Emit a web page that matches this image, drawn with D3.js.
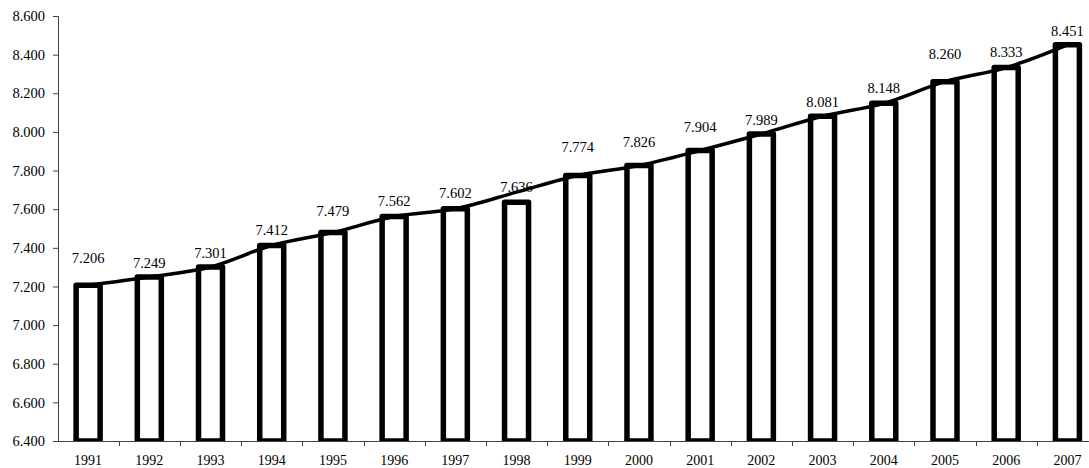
<!DOCTYPE html>
<html><head><meta charset="utf-8">
<script src="https://cdn.jsdelivr.net/npm/d3@7"></script>
<style>
html,body{margin:0;padding:0;background:#fff;overflow:hidden}
svg{display:block}
text{font-family:"Liberation Serif","Times New Roman",serif;fill:#000}
</style></head>
<body><svg id="chart" width="1089" height="468"></svg>
<script>
const years = ["1991","1992","1993","1994","1995","1996","1997","1998","1999","2000","2001","2002","2003","2004","2005","2006","2007"];
const values = [7.206,7.249,7.301,7.412,7.479,7.562,7.602,7.636,7.774,7.826,7.904,7.989,8.081,8.148,8.260,8.333,8.451];
const trendValues = [7.206,7.249,7.301,7.412,7.479,7.562,7.602,7.688,7.774,7.826,7.904,7.989,8.081,8.148,8.260,8.333,8.451];
const yTicks = [6.4,6.6,6.8,7.0,7.2,7.4,7.6,7.8,8.0,8.2,8.4,8.6];
const yTickLabels = ["6.400","6.600","6.800","7.000","7.200","7.400","7.600","7.800","8.000","8.200","8.400","8.600"];
const valueLabels = ["7.206","7.249","7.301","7.412","7.479","7.562","7.602","7.636","7.774","7.826","7.904","7.989","8.081","8.148","8.260","8.333","8.451"];

// layout
const labelLift = [27,13.3,14,15.5,21.6,15,16,14.7,28,23,23,14,14,15,27,15,13.5];
const plotLeft = 57.5, plotRight = 1098, plotTop = 16, plotBottom = 441;
const fs = 14.5;

const svg = d3.select("#chart");
const x = d3.scaleBand().domain(years).range([plotLeft, plotRight]).paddingInner(0.608).paddingOuter(0.304);
const y = d3.scaleLinear().domain([6.4, 8.6]).range([plotBottom, plotTop]);
const cx = d => x(d) + x.bandwidth() / 2;

svg.append("clipPath").attr("id","plot").append("rect")
  .attr("x", 0).attr("y", 0).attr("width", 1200).attr("height", plotBottom);

// bars
svg.append("g").attr("clip-path","url(#plot)")
  .selectAll("rect").data(years).join("rect")
  .attr("x", d => x(d))
  .attr("width", x.bandwidth())
  .attr("y", (d,i) => y(values[i]))
  .attr("height", (d,i) => y(6.4) - y(values[i]))
  .attr("fill", "#fff").attr("stroke", "#000").attr("stroke-width", 5.5)
  .attr("stroke-linejoin", "round");

// smooth line
const line = d3.line().x((d,i) => cx(years[i])).y(d => y(d)).curve(d3.curveCatmullRom.alpha(0.5));
svg.append("path").datum(trendValues).attr("d", line)
  .attr("fill","none").attr("stroke","#000").attr("stroke-width",3.5).attr("stroke-linecap","round");

// value labels
svg.append("g").selectAll("text").data(valueLabels).join("text")
  .attr("x", (d,i) => cx(years[i]))
  .attr("y", (d,i) => y(values[i]) - labelLift[i] + fs*0.33)
  .attr("text-anchor","middle").style("font-size", fs + "px")
  .text(d => d);

// y axis
const yAxis = svg.append("g").attr("transform","translate(58,0)")
  .call(d3.axisLeft(y).tickValues(yTicks).tickFormat((d,i) => yTickLabels[i]).tickSize(5).tickPadding(8));
yAxis.select(".domain").attr("stroke","#404040");
yAxis.selectAll(".tick line").attr("stroke","#404040");
yAxis.selectAll("text").style("font-size", fs + "px").attr("font-family", null).attr("fill","#000");

// x axis
const xAxis = svg.append("g").attr("transform",`translate(0,${plotBottom})`);
xAxis.append("line").attr("x1", 58).attr("x2", 1100).attr("y1", 0.5).attr("y2", 0.5).attr("stroke","#404040");
const gap = (x.step() - x.bandwidth()) / 2;
const bounds = years.map(d => x(d) - gap).concat([x(years[years.length-1]) + x.bandwidth() + gap]);
xAxis.selectAll("line.tk").data(bounds.slice(1)).join("line").attr("class","tk")
  .attr("x1", d => Math.round(d) + 0.5).attr("x2", d => Math.round(d) + 0.5)
  .attr("y1", 0).attr("y2", 5).attr("stroke","#404040");
xAxis.selectAll("text").data(years).join("text")
  .attr("x", d => cx(d)).attr("y", 23.5)
  .attr("text-anchor","middle").style("font-size", "14px").text(d => d);
</script></body></html>
